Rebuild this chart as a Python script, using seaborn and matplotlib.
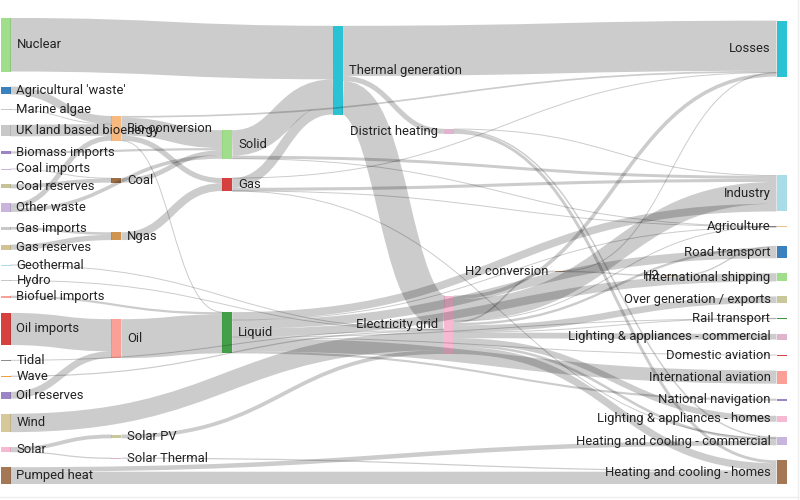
import matplotlib
matplotlib.use("Agg")
import matplotlib.pyplot as plt
from matplotlib.path import Path
from matplotlib.patches import PathPatch, Rectangle
import seaborn as sns

# UK energy flows (node names and links: source index, target index, value)
node_names = [
    "Agricultural 'waste'", "Bio-conversion", "Liquid", "Losses", "Solid", "Gas",
    "Biofuel imports", "Biomass imports", "Coal imports", "Coal", "Coal reserves",
    "District heating", "Industry", "Heating and cooling - commercial",
    "Heating and cooling - homes", "Electricity grid", "Over generation / exports",
    "H2 conversion", "Road transport", "Agriculture", "Rail transport",
    "Lighting & appliances - commercial", "Lighting & appliances - homes",
    "Gas imports", "Ngas", "Gas reserves", "Thermal generation", "Geothermal",
    "H2", "Hydro", "International shipping", "Domestic aviation",
    "International aviation", "National navigation", "Marine algae", "Nuclear",
    "Oil imports", "Oil", "Oil reserves", "Other waste", "Pumped heat",
    "Solar PV", "Solar Thermal", "Solar", "Tidal", "UK land based bioenergy",
    "Wave", "Wind",
]

link_source = [0, 1, 1, 1, 1, 6, 7, 8, 10, 9, 11, 11, 11, 15, 15, 15, 15, 15, 15, 15,
               15, 15, 15, 15, 23, 25, 5, 5, 5, 5, 5, 27, 17, 17, 28, 29, 2, 2, 2,
               2, 2, 2, 2, 2, 34, 24, 35, 36, 38, 37, 39, 39, 40, 40, 41, 42, 43, 43, 4,
               4, 4, 26, 26, 26, 44, 45, 46, 47]
link_target = [1, 2, 3, 4, 5, 2, 4, 9, 9, 4, 12, 13, 14, 16, 14, 17, 12, 18, 19, 13,
               3, 20, 21, 22, 24, 24, 13, 3, 26, 19, 12, 15, 28, 3, 18, 15, 12, 30, 18,
               31, 32, 19, 33, 20, 1, 5, 26, 37, 37, 2, 4, 1, 14, 13, 15, 14, 42, 41, 19,
               26, 12, 15, 3, 11, 15, 1, 15, 15]
link_value = [124.729, 0.597, 26.862, 280.322, 81.144, 35, 35, 11.606, 63.965, 75.571,
              10.639, 22.505, 46.184, 104.453, 113.726, 27.14, 342.165, 37.797, 4.412,
              40.858, 56.691, 7.863, 90.008, 93.494, 40.719, 82.233, 0.129, 1.401,
              151.891, 2.096, 48.58, 7.013, 20.897, 6.242, 20.897, 6.995, 121.066,
              128.69, 135.835, 14.458, 206.267, 3.64, 33.218, 4.413, 4.375, 122.952,
              839.978, 504.287, 107.703, 611.99, 56.587, 77.81, 193.026, 70.672, 59.901,
              19.263, 19.263, 59.901, 0.882, 400.12, 46.477, 525.531, 787.129, 79.329,
              9.452, 182.01, 19.013, 289.366]

# top-to-bottom order of the nodes inside each column
node_order = [
    "Nuclear", "Agricultural 'waste'", "Marine algae", "UK land based bioenergy",
    "Biomass imports", "Coal imports", "Coal reserves", "Other waste", "Gas imports",
    "Gas reserves", "Geothermal", "Hydro", "Biofuel imports", "Oil imports", "Tidal",
    "Wave", "Oil reserves", "Wind", "Solar", "Pumped heat",
    "Bio-conversion", "Coal", "Ngas", "Oil", "Solar PV", "Solar Thermal",
    "Solid", "Gas", "Liquid",
    "Thermal generation",
    "District heating", "Electricity grid",
    "H2 conversion", "H2",
    "Losses", "Industry", "Agriculture", "Road transport", "International shipping",
    "Over generation / exports", "Rail transport", "Lighting & appliances - commercial",
    "Domestic aviation", "International aviation", "National navigation",
    "Lighting & appliances - homes", "Heating and cooling - commercial",
    "Heating and cooling - homes",
]

# node colours (style)
node_colors = {
    "Agricultural 'waste'": "#3a82be", "Bio-conversion": "#f7b97e", "Liquid": "#43a048",
    "Losses": "#2bc3d4", "Solid": "#a0de8c", "Gas": "#d6403f",
    "Biofuel imports": "#fba096", "Biomass imports": "#9b85c4", "Coal imports": "#c8b4dc",
    "Coal": "#9b6e46", "Coal reserves": "#c8c396", "District heating": "#e1b4cd",
    "Industry": "#a8dce8", "Heating and cooling - commercial": "#c8b4dc",
    "Heating and cooling - homes": "#a57855", "Electricity grid": "#f7b9d2",
    "Over generation / exports": "#c8c89b", "H2 conversion": "#a08264",
    "Road transport": "#3a81bd", "Agriculture": "#f5c08a", "Rail transport": "#3a9a3a",
    "Lighting & appliances - commercial": "#e1b4cd",
    "Lighting & appliances - homes": "#f7b9d2", "Gas imports": "#c8c8c8",
    "Ngas": "#cf944f", "Gas reserves": "#d2c396", "Thermal generation": "#2bc3d4",
    "Geothermal": "#a8dce8", "H2": "#c0a070", "Hydro": "#c8c8c8",
    "International shipping": "#a0de8c", "Domestic aviation": "#d6403f",
    "International aviation": "#fba096", "National navigation": "#9b85c4",
    "Marine algae": "#c8c8c8", "Nuclear": "#a0de8c", "Oil imports": "#d6403f",
    "Oil": "#fba096", "Oil reserves": "#9b85c4", "Other waste": "#c8b4dc",
    "Pumped heat": "#a57855", "Solar PV": "#c8c89b", "Solar Thermal": "#e1b4cd",
    "Solar": "#f7b9d2", "Tidal": "#8c8c8c", "UK land based bioenergy": "#c8c8c8",
    "Wave": "#f0a040", "Wind": "#d6c89a",
}

# chart geometry in pixels
OFF_X, OFF_Y = 0.5, 18
SIZE_W, SIZE_H = 786, 466
NODE_W, PAD = 10, 15
ITERATIONS = 6


def sankey_layout(n, src, tgt, val, rank):
    out_links = [[] for _ in range(n)]
    in_links = [[] for _ in range(n)]
    for k in range(len(val)):
        out_links[src[k]].append(k)
        in_links[tgt[k]].append(k)
    value = [max(sum(val[k] for k in out_links[i]), sum(val[k] for k in in_links[i]))
             for i in range(n)]

    # columns: longest path from a source, sinks pushed to the last column
    col = [0] * n
    remaining = set(range(n))
    depth = 0
    while remaining and depth <= n:
        nxt = set()
        for i in remaining:
            col[i] = depth
            for k in out_links[i]:
                nxt.add(tgt[k])
        remaining = nxt
        depth += 1
    for i in range(n):
        if not out_links[i]:
            col[i] = depth - 1
    kx = (SIZE_W - NODE_W) / (depth - 1)
    x = [c * kx for c in col]

    columns = [sorted([i for i in range(n) if col[i] == c], key=lambda i: rank[i])
               for c in range(depth)]
    columns = [c for c in columns if c]
    ky = min((SIZE_H - (len(c) - 1) * PAD) / sum(value[i] for i in c) for c in columns)
    w = [v * ky for v in val]
    h = [value[i] * ky for i in range(n)]
    y0 = [0.0] * n

    def sort_links(i):
        out_links[i].sort(key=lambda k: (y0[tgt[k]], k))
        in_links[i].sort(key=lambda k: (y0[src[k]], k))

    def reorder_node_links(i):
        for k in in_links[i]:
            out_links[src[k]].sort(key=lambda m: (y0[tgt[m]], m))
        for k in out_links[i]:
            in_links[tgt[k]].sort(key=lambda m: (y0[src[m]], m))

    for c in columns:
        yy = 0.0
        for i in c:
            y0[i] = yy
            yy += h[i] + PAD
        spare = (SIZE_H - yy + PAD) / (len(c) + 1)
        for j, i in enumerate(c):
            y0[i] += spare * (j + 1)
    for i in range(n):
        sort_links(i)

    def target_top(s, t):
        yy = y0[s] - (len(out_links[s]) - 1) * PAD / 2
        for k in out_links[s]:
            if tgt[k] == t:
                break
            yy += w[k] + PAD
        for k in in_links[t]:
            if src[k] == s:
                break
            yy -= w[k]
        return yy

    def source_top(s, t):
        yy = y0[t] - (len(in_links[t]) - 1) * PAD / 2
        for k in in_links[t]:
            if src[k] == s:
                break
            yy += w[k] + PAD
        for k in out_links[s]:
            if tgt[k] == t:
                break
            yy -= w[k]
        return yy

    def push_down(c, yy, start, alpha):
        for i in c[start:]:
            d = (yy - y0[i]) * alpha
            if d > 1e-6:
                y0[i] += d
            yy = y0[i] + h[i] + PAD

    def push_up(c, yy, start, alpha):
        for j in range(start, -1, -1):
            i = c[j]
            d = (y0[i] + h[i] - yy) * alpha
            if d > 1e-6:
                y0[i] -= d
            yy = y0[i] - PAD

    def resolve(c, alpha):
        m = len(c) >> 1
        subj = c[m]
        push_up(c, y0[subj] - PAD, m - 1, alpha)
        push_down(c, y0[subj] + h[subj] + PAD, m + 1, alpha)
        push_up(c, SIZE_H, len(c) - 1, alpha)
        push_down(c, 0.0, 0, alpha)

    for it in range(ITERATIONS):
        alpha = 0.99 ** it
        beta = max(1 - alpha, (it + 1) / ITERATIONS)
        for c in columns[-2::-1]:
            for s in c:
                num = den = 0.0
                for k in out_links[s]:
                    t = tgt[k]
                    v = val[k] * (col[t] - col[s])
                    num += source_top(s, t) * v
                    den += v
                if den > 0:
                    y0[s] += (num / den - y0[s]) * alpha
                    reorder_node_links(s)
            resolve(c, beta)
        for c in columns[1:]:
            for t in c:
                num = den = 0.0
                for k in in_links[t]:
                    s = src[k]
                    v = val[k] * (col[t] - col[s])
                    num += target_top(s, t) * v
                    den += v
                if den > 0:
                    y0[t] += (num / den - y0[t]) * alpha
                    reorder_node_links(t)
            resolve(c, beta)

    # link attachment offsets
    sy = [0.0] * len(val)
    ty = [0.0] * len(val)
    for i in range(n):
        acc = 0.0
        for k in out_links[i]:
            sy[k] = acc
            acc += w[k]
        acc = 0.0
        for k in in_links[i]:
            ty[k] = acc
            acc += w[k]
    return x, y0, h, w, sy, ty


n_nodes = len(node_names)
rank = [node_order.index(name) for name in node_names]
nx, ny, nh, lw, sy, ty = sankey_layout(n_nodes, link_source, link_target, link_value, rank)

sns.set_theme(style="white")
plt.rcParams["font.family"] = ["Roboto", "DejaVu Sans"]

DPI = 100
fig = plt.figure(figsize=(8, 5), dpi=DPI)
ax = fig.add_axes([0, 0, 1, 1])
ax.set_xlim(0, 800)
ax.set_ylim(500, 0)
ax.axis("off")

# nodes
for i, name in enumerate(node_names):
    ax.add_patch(Rectangle((OFF_X + nx[i], OFF_Y + ny[i]), NODE_W, max(nh[i], 1.0),
                           facecolor=node_colors[name], edgecolor="none", zorder=2))

# links, widest first
order = sorted(range(len(link_value)), key=lambda k: -link_value[k])
for k in order:
    s, t = link_source[k], link_target[k]
    x0 = OFF_X + nx[s] + NODE_W
    x1 = OFF_X + nx[t]
    y0 = OFF_Y + ny[s] + sy[k] + lw[k] / 2
    y1 = OFF_Y + ny[t] + ty[k] + lw[k] / 2
    xm = (x0 + x1) / 2
    path = Path([(x0, y0), (xm, y0), (xm, y1), (x1, y1)],
                [Path.MOVETO, Path.CURVE4, Path.CURVE4, Path.CURVE4])
    ax.add_patch(PathPatch(path, facecolor="none", edgecolor=(0, 0, 0, 0.2),
                           linewidth=max(1.0, lw[k]) * 72 / DPI, capstyle="butt", zorder=3))

# labels
for i, name in enumerate(node_names):
    cy = OFF_Y + ny[i] + nh[i] / 2
    if nx[i] < SIZE_W / 2:
        ax.text(OFF_X + nx[i] + NODE_W + 6, cy, name, ha="left", va="center",
                fontsize=9.4, color="#222222", zorder=4)
    else:
        ax.text(OFF_X + nx[i] - 6, cy, name, ha="right", va="center",
                fontsize=9.4, color="#222222", zorder=4)

ax.axhline(496.5, color="#eeeeee", lw=1)
ax.axvline(797.5, color="#eeeeee", lw=1)

fig.savefig("out.png", dpi=DPI)
